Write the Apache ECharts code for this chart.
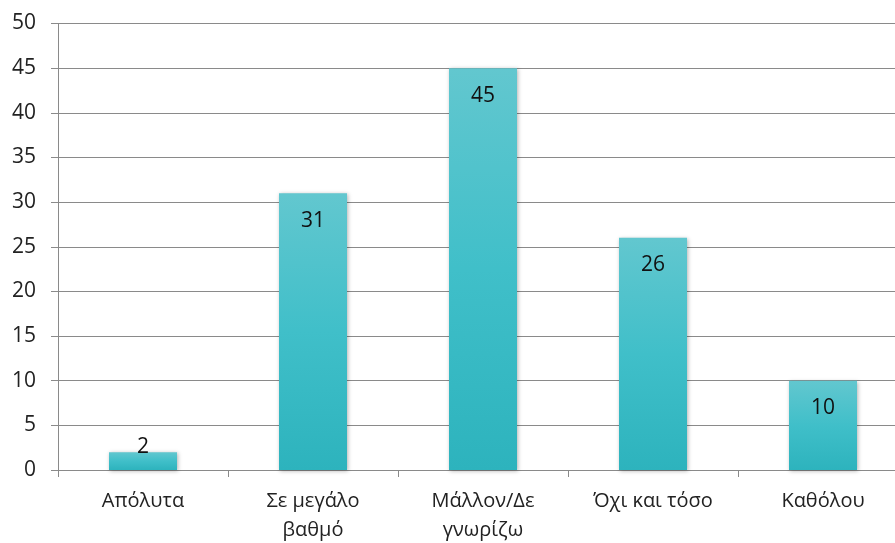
<!DOCTYPE html>
<html><head><meta charset="utf-8">
<script src="https://cdn.jsdelivr.net/npm/echarts@6/dist/echarts.min.js"></script>
<style>html,body{margin:0;padding:0;background:#fff}#c{width:895px;height:543px}</style>
</head><body><div id="c"></div>
<script>
const categories = ["Απόλυτα", "Σε μεγάλο\nβαθμό", "Μάλλον/Δε\nγνωρίζω", "Όχι και τόσο", "Καθόλου"];
const values = [2, 31, 45, 26, 10];
const yTicks = {min: 0, max: 50, interval: 5};

const chart = echarts.init(document.getElementById('c'));
const grad = new echarts.graphic.LinearGradient(0, 0, 0, 1, [
  {offset: 0, color: '#62c7cf'},
  {offset: 0.5, color: '#40bfc9'},
  {offset: 1, color: '#2db3bd'}
]);
chart.setOption({
  animation: false,
  textStyle: {fontFamily: 'Open Sans'},
  grid: {left: 58, right: -13, top: 23.5, bottom: 73, containLabel: false, outerBoundsMode: 'none'},
  xAxis: {
    type: 'category', data: categories,
    axisLine: {lineStyle: {color: '#8a8a8a', width: 1}},
    axisTick: {show: true, length: 7, lineStyle: {color: '#8a8a8a'}},
    axisLabel: {color: '#222', fontSize: 20, margin: 17, lineHeight: 29, fontFamily: 'Open Sans'}
  },
  yAxis: {
    type: 'value', min: yTicks.min, max: yTicks.max, interval: yTicks.interval,
    axisLine: {show: true, lineStyle: {color: '#8a8a8a'}},
    axisTick: {show: true, length: 7, lineStyle: {color: '#8a8a8a'}},
    splitLine: {lineStyle: {color: '#8a8a8a', width: 1}},
    axisLabel: {color: '#222', fontSize: 21, margin: 22, fontFamily: 'Open Sans'}
  },
  series: [{
    type: 'bar', data: values.map(v => ({
      value: v,
      label: v < 5 ? {position: 'top', distance: -5} : {position: 'insideTop', distance: 17}
    })),
    barCategoryGap: '60%',
    itemStyle: {color: grad, shadowColor: 'rgba(0,0,0,0.3)', shadowBlur: 4, shadowOffsetX: 1, shadowOffsetY: 1},
    label: {show: true, color: '#111', fontSize: 21, fontFamily: 'Open Sans'}
  }]
});
</script></body></html>
